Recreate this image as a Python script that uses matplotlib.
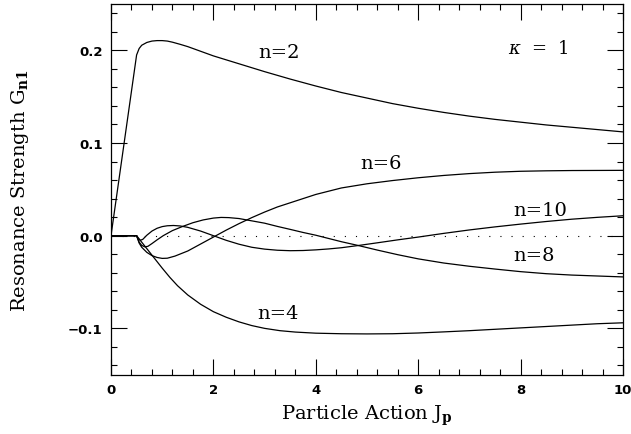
import matplotlib
matplotlib.use("Agg")
import matplotlib.pyplot as plt
from matplotlib.ticker import MultipleLocator, FuncFormatter

# ---- data ----
x_n2 = [0.0, 0.5, 0.55, 0.6, 0.7, 0.8, 0.9, 1.0, 1.1, 1.2, 1.35, 1.5, 1.75, 2.0, 2.5, 3.0,
        3.5, 4.0, 4.5, 5.0, 5.5, 6.0, 6.5, 7.0, 7.5, 8.0, 8.5, 9.0, 9.5, 10.0]
y_n2 = [0.0, 0.195, 0.202, 0.2055, 0.2085, 0.210, 0.2105, 0.2105, 0.210, 0.2088, 0.2065,
        0.204, 0.199, 0.194, 0.1855, 0.177, 0.169, 0.1615, 0.1545, 0.1485, 0.1425, 0.1375,
        0.133, 0.129, 0.1255, 0.1225, 0.1195, 0.117, 0.1145, 0.112]

x_n4 = [0.0, 0.5, 0.6, 0.7, 0.8, 0.9, 1.0, 1.15, 1.3, 1.5, 1.75, 2.0, 2.25, 2.5, 2.75, 3.0,
        3.3, 3.6, 4.0, 4.5, 5.0, 5.5, 6.0, 6.5, 7.0, 7.5, 8.0, 8.5, 9.0, 9.5, 10.0]
y_n4 = [0.0, 0.0, -0.007, -0.014, -0.021, -0.028, -0.035, -0.045, -0.054, -0.064, -0.074,
        -0.082, -0.088, -0.093, -0.097, -0.100, -0.1025, -0.104, -0.1052, -0.1058, -0.106,
        -0.1058, -0.105, -0.1038, -0.1025, -0.101, -0.0995, -0.098, -0.0965, -0.095, -0.094]

x_n6 = [0.0, 0.5, 0.55, 0.6, 0.7, 0.8, 0.9, 1.0, 1.1, 1.25, 1.5, 1.75, 2.0, 2.25, 2.5, 2.75,
        3.0, 3.25, 3.5, 3.75, 4.0, 4.5, 5.0, 5.5, 6.0, 6.5, 7.0, 7.5, 8.0, 8.5, 9.0, 10.0]
y_n6 = [0.0, 0.0, -0.008, -0.0125, -0.018, -0.0215, -0.0235, -0.0245, -0.0243, -0.022,
        -0.0165, -0.009, -0.0015, 0.006, 0.013, 0.0195, 0.0255, 0.031, 0.0355, 0.040,
        0.0445, 0.0515, 0.056, 0.0595, 0.0625, 0.065, 0.067, 0.0685, 0.0695, 0.070, 0.0703,
        0.0705]

x_n8 = [0.0, 0.5, 0.55, 0.6, 0.66, 0.72, 0.8, 0.9, 1.02, 1.2, 1.4, 1.6, 1.8, 2.0, 2.15, 2.3,
        2.5, 2.75, 3.0, 3.25, 3.5, 3.75, 4.0, 4.25, 4.5, 4.83, 5.2, 5.6, 6.0, 6.5, 7.0, 7.5,
        8.0, 8.5, 9.0, 9.5, 10.0]
y_n8 = [0.0, 0.0, -0.007, -0.0105, -0.012, -0.0115, -0.0085, -0.0045, 0.0, 0.0055, 0.010,
        0.014, 0.017, 0.019, 0.0197, 0.0195, 0.0185, 0.016, 0.0135, 0.010, 0.0068, 0.0035,
        0.0005, -0.003, -0.0065, -0.0106, -0.0155, -0.0205, -0.025, -0.0295, -0.033, -0.036,
        -0.0388, -0.041, -0.0425, -0.0435, -0.0445]

x_n10 = [0.0, 0.5, 0.53, 0.57, 0.62, 0.7, 0.8, 0.9, 1.0, 1.1, 1.22, 1.35, 1.5, 1.75, 2.0,
         2.25, 2.5, 2.75, 3.0, 3.25, 3.5, 3.75, 4.0, 4.25, 4.5, 4.83, 5.2, 5.6, 6.0, 6.5,
         7.0, 7.5, 8.0, 8.5, 9.0, 9.5, 10.0]
y_n10 = [0.0, 0.0, -0.003, -0.005, -0.004, 0.0005, 0.005, 0.008, 0.0098, 0.0107, 0.011,
         0.0105, 0.009, 0.005, 0.0, -0.005, -0.0092, -0.0125, -0.0145, -0.0157, -0.0162,
         -0.016, -0.0153, -0.0143, -0.013, -0.0106, -0.0077, -0.0045, -0.0015, 0.0025,
         0.0062, 0.0095, 0.0125, 0.0153, 0.0178, 0.0198, 0.0215]

labels = ["n=2", "n=4", "n=6", "n=8", "n=10"]
label_x = [3.28, 3.26, 5.27, 8.26, 8.38]
label_y = [0.198, -0.083, 0.078, -0.021, 0.028]

xticks = [0, 2, 4, 6, 8, 10]
yticks = [-0.1, 0.0, 0.1, 0.2]

plt.rcParams['mathtext.fontset'] = 'dejavuserif'

fig = plt.figure(figsize=(6.31, 4.35), dpi=100)
ax = fig.add_axes([111/631, 1 - 375.7/435, 512/631, 370.7/435])

lw = 0.9
for xs, ys in [(x_n2, y_n2), (x_n4, y_n4), (x_n6, y_n6), (x_n8, y_n8), (x_n10, y_n10)]:
    ax.plot(xs, ys, color='black', lw=lw)

ax.axhline(0.0, color='black', lw=0.8, dashes=(1, 9))

for t, tx, ty in zip(labels, label_x, label_y):
    ax.text(tx, ty, t, ha='center', va='center', fontsize=14, family='DejaVu Serif')
ax.text(8.34, 0.203, r"$\kappa$  =  1", ha='center', va='center', fontsize=13,
        family='DejaVu Serif')

ax.set_xlim(0, 10)
ax.set_ylim(-0.15, 0.25)
ax.set_xticks(xticks)
ax.set_yticks(yticks)
ax.xaxis.set_minor_locator(MultipleLocator(0.4))
ax.yaxis.set_minor_locator(MultipleLocator(0.02))
ax.xaxis.set_major_formatter(FuncFormatter(lambda v, p: f"{v:g}"))
ax.yaxis.set_major_formatter(FuncFormatter(lambda v, p: f"{v:.1f}".replace("-", "\u2212")))
ax.tick_params(which='both', direction='in', top=True, right=True, width=0.8,
               labelsize=9.5)
ax.tick_params(which='major', length=11.5, pad=6)
ax.tick_params(which='minor', length=4.5)
for lab in ax.get_xticklabels() + ax.get_yticklabels():
    lab.set_fontweight('bold')
for sp in ax.spines.values():
    sp.set_linewidth(0.9)

ax.set_xlabel(r"Particle Action J$_{\mathbf{p}}$", fontsize=14, family='DejaVu Serif',
              labelpad=5)
ax.set_ylabel(r"Resonance Strength G$_{\mathbf{n1}}$", fontsize=14, family='DejaVu Serif',
              labelpad=27)

fig.savefig("out.png", dpi=100)
